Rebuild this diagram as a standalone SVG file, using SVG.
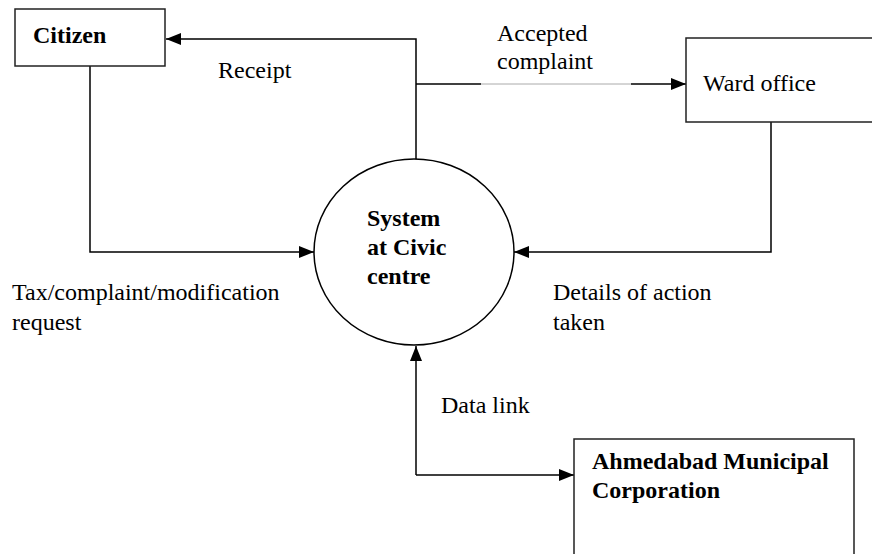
<svg xmlns="http://www.w3.org/2000/svg" width="872" height="554" viewBox="0 0 872 554">
<defs>
<marker id="ah" markerWidth="15" markerHeight="12" refX="15" refY="6" orient="auto" markerUnits="userSpaceOnUse">
<path d="M0,0 L15,6 L0,12 Z" fill="#000"/>
</marker>
<style>
.box{fill:#fff;stroke:#222;stroke-width:1.5}
.ln{fill:none;stroke:#000;stroke-width:1.5}
.t{font-family:"Liberation Serif","Times New Roman",serif;font-size:24px;fill:#000}
.b{font-weight:bold}
</style>
</defs>
<rect width="872" height="554" fill="#fff"/>
<g id="connectors">
<path class="ln" d="M416,159 L416,39 L166,39" marker-end="url(#ah)"/>
<path class="ln" d="M416,84 L481,84"/>
<path d="M481,84 L631,84" stroke="#aaa" stroke-width="1" fill="none"/>
<path class="ln" d="M631,84 L686,84" marker-end="url(#ah)"/>
<path class="ln" d="M90,66 L90,252 L314,252" marker-end="url(#ah)"/>
<path class="ln" d="M771,122 L771,252 L514,252" marker-end="url(#ah)"/>
<path class="ln" d="M416,475 L416,346" marker-end="url(#ah)"/>
<path class="ln" d="M416,475 L574,475" marker-end="url(#ah)"/>
</g>
<g id="citizen">
<rect class="box" x="15" y="9" width="150" height="57"/>
<text class="t b" x="33" y="43">Citizen</text>
</g>
<g id="ward">
<path class="box" d="M874,38 L686,38 L686,122 L874,122"/>
<text class="t" x="703" y="91">Ward office</text>
</g>
<g id="system">
<ellipse cx="414" cy="252" rx="100" ry="93" fill="#fff" stroke="#000" stroke-width="1.5"/>
<text class="t b" x="367" y="226">System</text>
<text class="t b" x="367" y="255">at Civic</text>
<text class="t b" x="367" y="284">centre</text>
</g>
<g id="amc">
<path class="box" d="M574,556 L574,439 L854,439 L854,556"/>
<text class="t b" x="592" y="469">Ahmedabad Municipal</text>
<text class="t b" x="592" y="498">Corporation</text>
</g>
<g id="labels">
<text class="t" x="218" y="78">Receipt</text>
<text class="t" x="497" y="41">Accepted</text>
<text class="t" x="497" y="69">complaint</text>
<text class="t" x="12" y="300">Tax/complaint/modification</text>
<text class="t" x="12" y="330">request</text>
<text class="t" x="553" y="300">Details of action</text>
<text class="t" x="553" y="330">taken</text>
<text class="t" x="441" y="413">Data link</text>
</g>
</svg>
